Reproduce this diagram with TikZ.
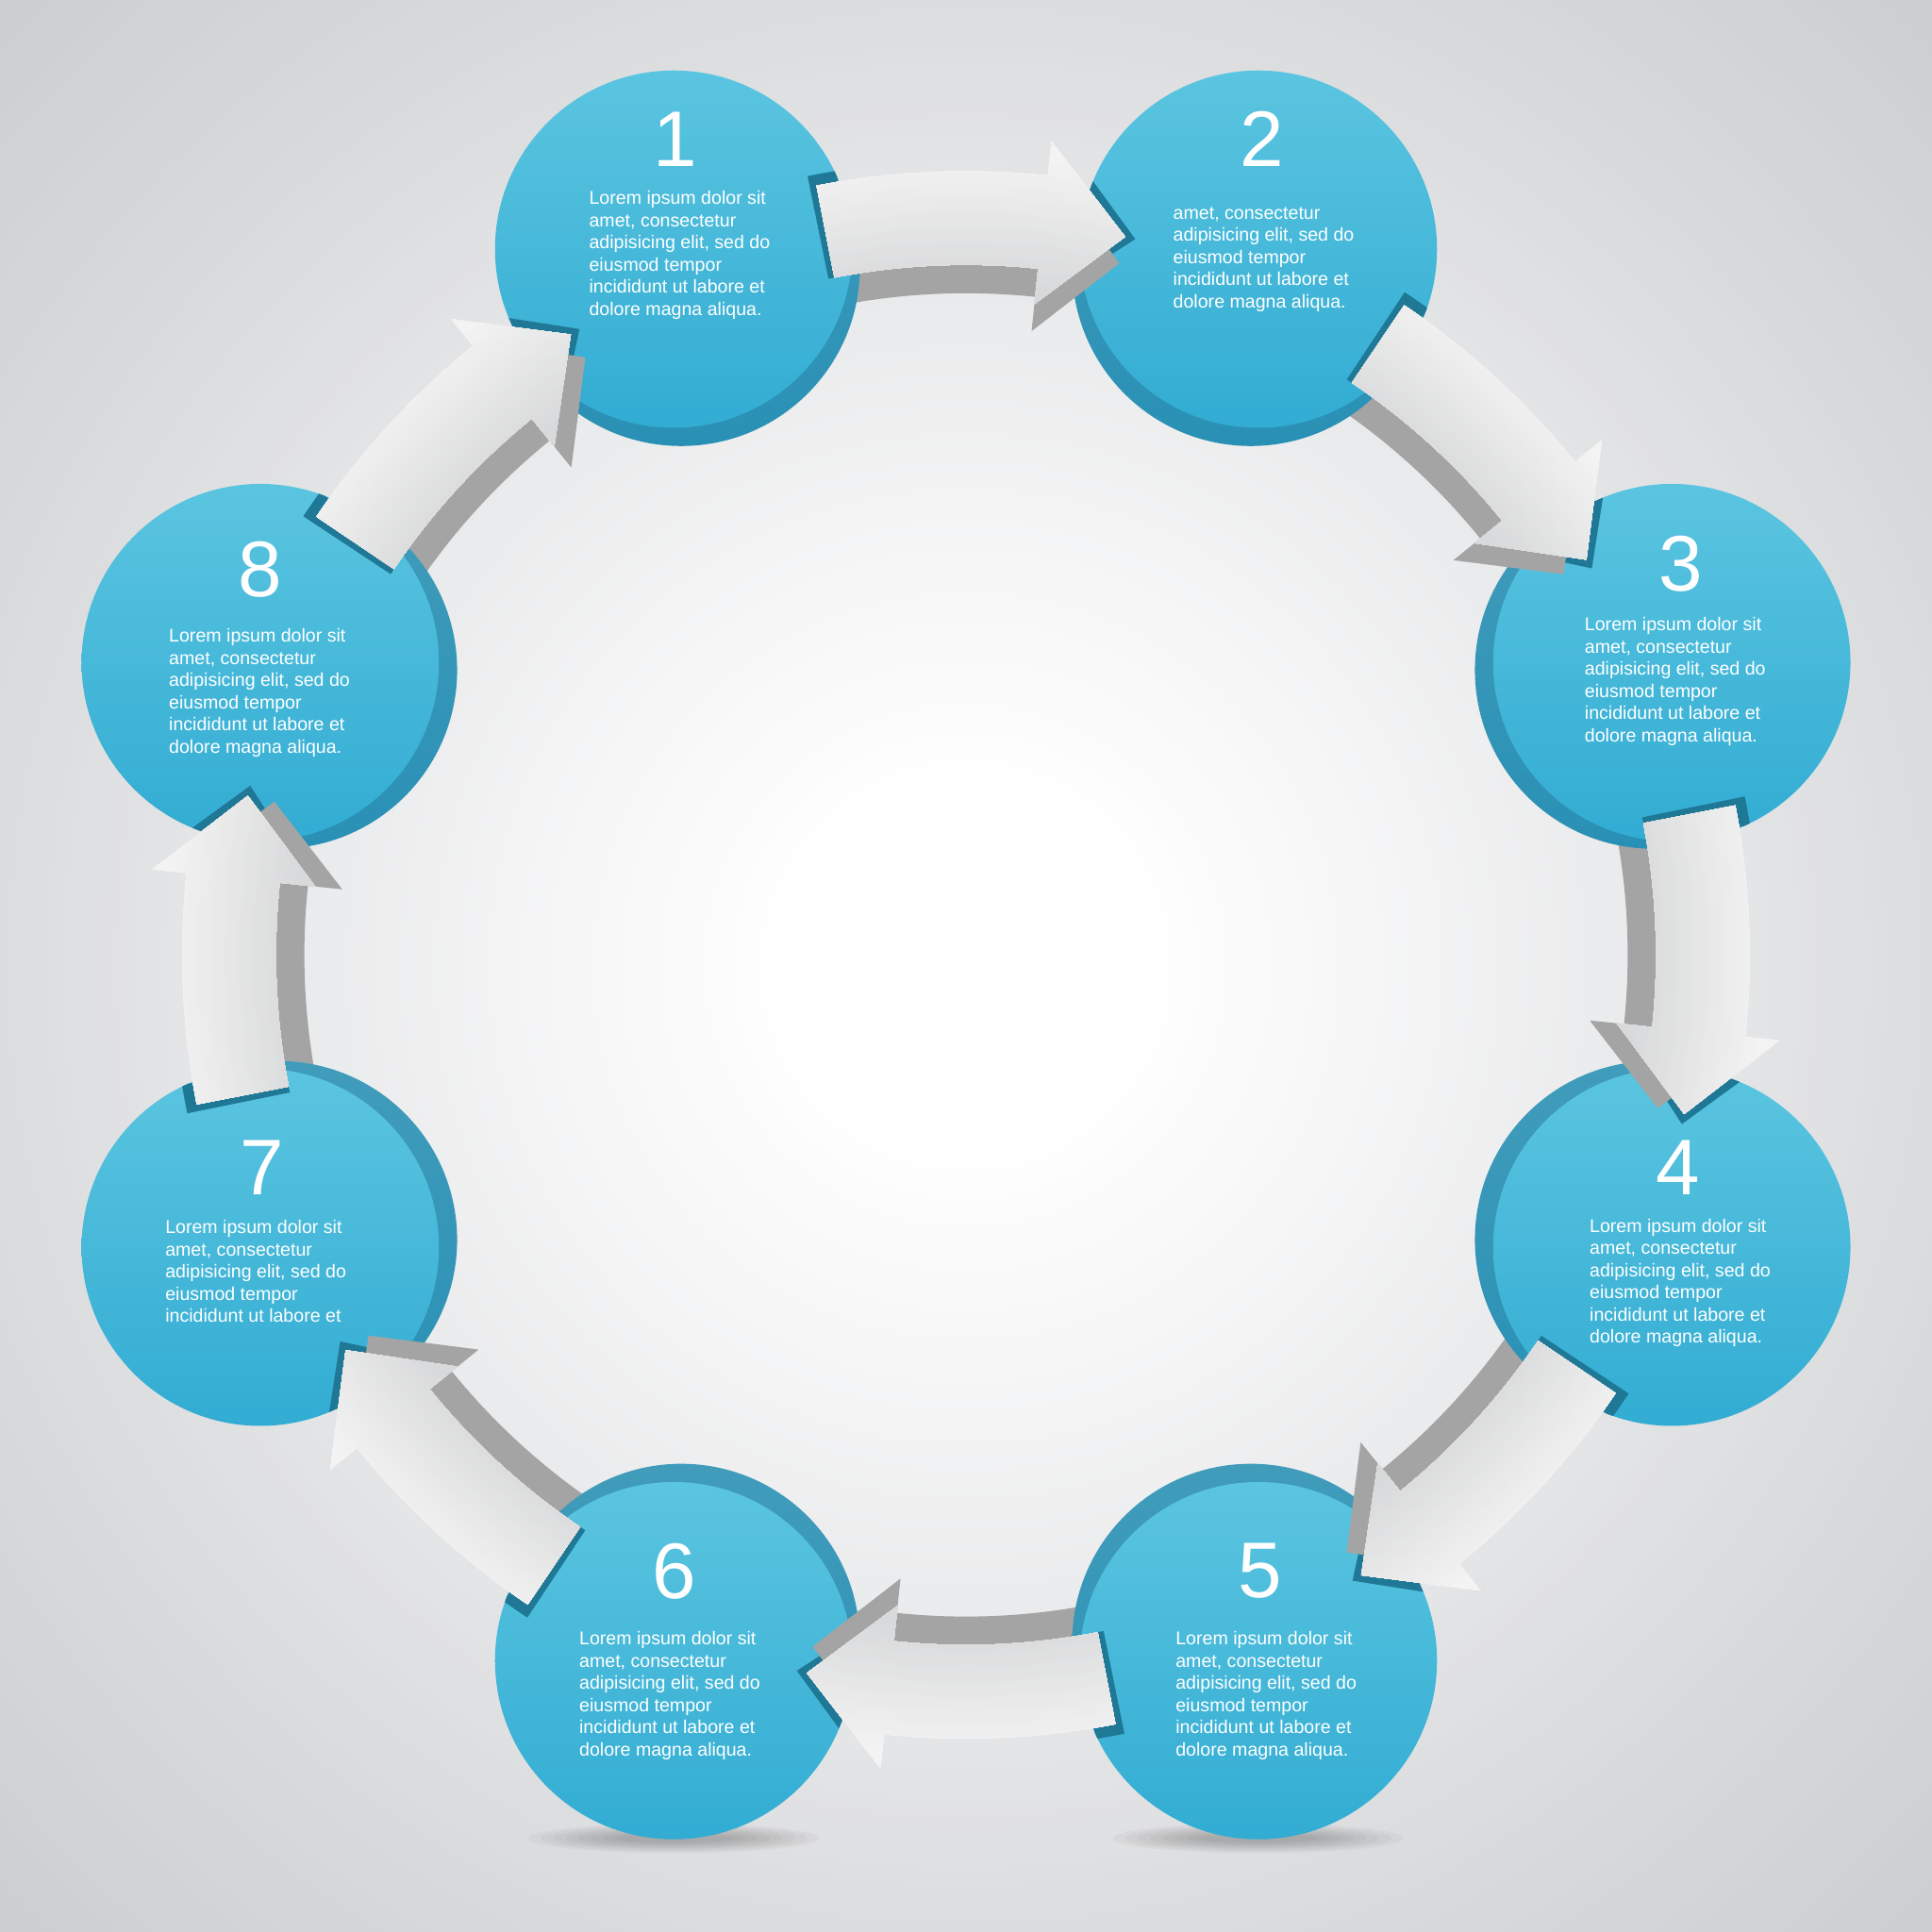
\documentclass[tikz,border=0pt]{standalone}
\usepackage{fontspec}
\setmainfont{Liberation Sans}
\definecolor{faceTop}{HTML}{5BC5E0}
\definecolor{faceBot}{HTML}{32ACD3}
\definecolor{sideTop}{HTML}{419CBB}
\definecolor{sideBot}{HTML}{2990B5}
\definecolor{wall}{HTML}{1F7896}
\definecolor{arrLight}{HTML}{F3F3F3}
\definecolor{arrDark}{HTML}{D8D9DA}
\definecolor{arrSide}{HTML}{A4A4A4}
\definecolor{bgB}{HTML}{F5F5F6}
\definecolor{bgC}{HTML}{E9EAEB}
\definecolor{bgD}{HTML}{DCDDDF}
\definecolor{bgE}{HTML}{CDCED0}
\begin{document}
\begin{tikzpicture}[x=1pt,y=1pt,
  numstyle/.style={font=\fontsize{64}{64}\selectfont, text=white, inner sep=0pt},
  txtstyle/.style={font=\fontsize{15}{18}\selectfont, text=white, align=left, anchor=north west, inner sep=0pt}]
\useasboundingbox (0,0) rectangle (1568,1568);
% background: radial grey-to-white
\begin{scope}
  \clip (0,0) rectangle (1568,1568);
  \fill[bgE] (0,0) rectangle (1568,1568);
  \foreach \ro/\ri/\co/\ci in {1110/780/bgE/bgD, 780/550/bgD/bgC, 550/350/bgC/bgB, 350/150/bgB/white} {
    \foreach \k in {0,...,19} {
      \pgfmathsetmacro\r{\ro-(\ro-\ri)*\k/20}
      \pgfmathsetmacro\p{100*\k/20}
      \fill[\ci!\p!\co] (784,784) circle (\r);
    }
  }
  \fill[white] (784,784) circle (150);
\end{scope}
% soft shadows under the two bottom discs
\foreach \x in {547,1021} {
  \foreach \i in {0,...,7} {
    \fill[black,opacity=0.03] (\x,76) ellipse ({118-10*\i} and {12-1.2*\i});
  }
}
\begin{scope}[shift={(784,793)}]
% dark under-side of the arrow bodies (behind the discs)
\foreach \t in {112.5,67.5,22.5,-22.5,-67.5,-112.5,-157.5,-202.5} {
  \pgfmathsetmacro\aa{\t-11.5}
  \pgfmathsetmacro\ab{\t-28.5}
  \fill[arrSide] (\aa:562) arc[start angle=\aa, end angle=\ab, radius=562]
     -- (\ab:537) arc[start angle=\ab, end angle=\aa, radius=537] -- cycle;
}
% discs
\foreach \t in {112.5,67.5,22.5,-22.5,-67.5,-112.5,-157.5,-202.5} {
  \shade[top color=sideTop, bottom color=sideBot] (\t:604) circle (145);
  \shade[top color=faceTop, bottom color=faceBot] (\t:620) circle (145);
}
% slot walls (tail slots and head notches)
\foreach \t in {112.5,67.5,22.5,-22.5,-67.5,-112.5,-157.5,-202.5} {
  \pgfmathsetmacro\aa{\t-11.5}
  \pgfmathsetmacro\ta{\aa+0.5}
  \pgfmathsetmacro\tb{\aa-1.6}
  \pgfmathsetmacro\ha{\t+16.5}
  \pgfmathsetmacro\hb{\t+9.2}
  \begin{scope}
    \clip (\t:620) circle (145);
    \fill[wall] (\ta:560) arc[start angle=\ta, end angle=\tb, radius=560]
       -- (\tb:645) arc[start angle=\tb, end angle=\ta, radius=645] -- cycle;
    \fill[wall] (\ha:531) -- (\ha:676) -- (\hb:597) -- cycle;
  \end{scope}
}
% dark under-side of the arrow heads
\foreach \t in {112.5,67.5,22.5,-22.5,-67.5,-112.5,-157.5,-202.5} {
  \pgfmathsetmacro\ab{\t-28.5}
  \pgfmathsetmacro\ac{\t-35}
  \fill[arrSide] (\ab:642) -- (\ac:575) -- (\ab:509) -- cycle;
}
% arrow faces
\foreach \t in {112.5,67.5,22.5,-22.5,-67.5,-112.5,-157.5,-202.5} {
  \pgfmathsetmacro\aa{\t-11.5}
  \pgfmathsetmacro\ab{\t-28.5}
  \pgfmathsetmacro\ac{\t-35}
  \begin{scope}
    \clip (\aa:636) arc[start angle=\aa, end angle=\ab, radius=636]
       -- (\ab:664) -- (\ac:597) -- (\ab:531) -- (\ab:560)
       arc[start angle=\ab, end angle=\aa, radius=560] -- cycle;
    \foreach \r in {680,677,...,500} {
      \pgfmathsetmacro\p{max(0,min(100,(\r-545)*100/105))}
      \fill[arrLight!\p!arrDark] (0,0) circle (\r);
    }
  \end{scope}
}
\end{scope}
% numbers
\node[numstyle] (n1) at (548,1455) {1};
\node[numstyle] (n2) at (1024,1455) {2};
\node[numstyle] (n3) at (1364,1110) {3};
\node[numstyle] (n4) at (1362,620) {4};
\node[numstyle] (n5) at (1023,293) {5};
\node[numstyle] (n6) at (547,293) {6};
\node[numstyle] (n7) at (213,620) {7};
\node[numstyle] (n8) at (211,1106) {8};
% texts
\node[txtstyle] (t1) at (478,1413) {Lorem ipsum dolor sit\\amet, consectetur\\adipisicing elit, sed do\\eiusmod tempor\\incididunt ut labore et\\dolore magna aliqua.};
\node[txtstyle] (t2) at (952,1400) {amet, consectetur\\adipisicing elit, sed do\\eiusmod tempor\\incididunt ut labore et\\dolore magna aliqua.};
\node[txtstyle] (t3) at (1286,1067) {Lorem ipsum dolor sit\\amet, consectetur\\adipisicing elit, sed do\\eiusmod tempor\\incididunt ut labore et\\dolore magna aliqua.};
\node[txtstyle] (t4) at (1290,579) {Lorem ipsum dolor sit\\amet, consectetur\\adipisicing elit, sed do\\eiusmod tempor\\incididunt ut labore et\\dolore magna aliqua.};
\node[txtstyle] (t5) at (954,244) {Lorem ipsum dolor sit\\amet, consectetur\\adipisicing elit, sed do\\eiusmod tempor\\incididunt ut labore et\\dolore magna aliqua.};
\node[txtstyle] (t6) at (470,244) {Lorem ipsum dolor sit\\amet, consectetur\\adipisicing elit, sed do\\eiusmod tempor\\incididunt ut labore et\\dolore magna aliqua.};
\node[txtstyle] (t7) at (134,578) {Lorem ipsum dolor sit\\amet, consectetur\\adipisicing elit, sed do\\eiusmod tempor\\incididunt ut labore et};
\node[txtstyle] (t8) at (137,1058) {Lorem ipsum dolor sit\\amet, consectetur\\adipisicing elit, sed do\\eiusmod tempor\\incididunt ut labore et\\dolore magna aliqua.};
\end{tikzpicture}
\end{document}
